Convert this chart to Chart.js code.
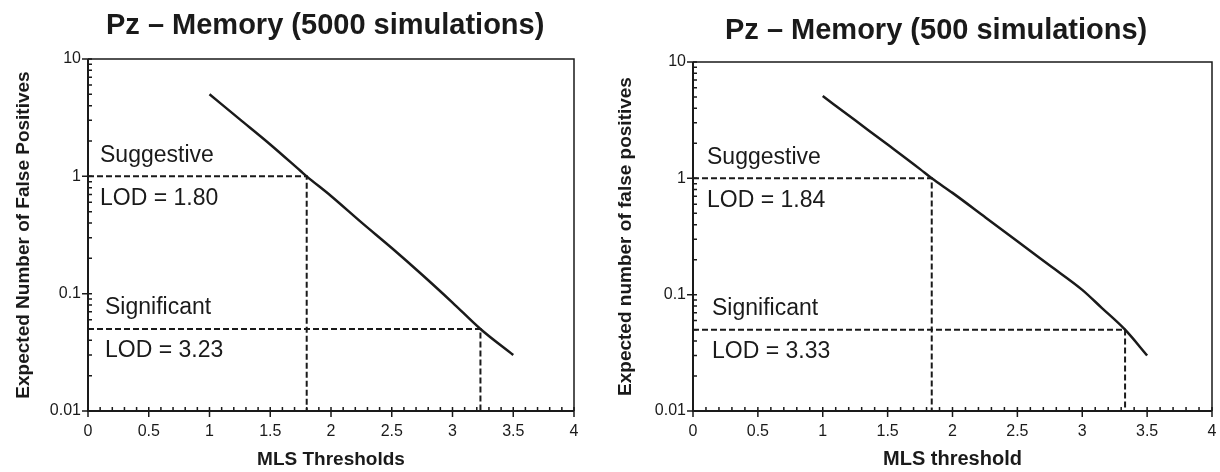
<!DOCTYPE html>
<html>
<head>
<meta charset="utf-8">
<script src="https://cdn.jsdelivr.net/npm/chart.js@4.4.1/dist/chart.umd.min.js"></script>
<style>
body{margin:0;background:#fff;}
#wrap{position:relative;width:1220px;height:472px;}
canvas{position:absolute;top:0;}
#c1{left:0;}
#c2{left:605px;}
</style>
</head>
<body>
<div id="wrap">
<canvas id="c1" width="605" height="472"></canvas>
<canvas id="c2" width="615" height="472"></canvas>
</div>
<script>
// values
const leftThresholds = [1, 1.25, 1.5, 1.75, 1.8, 2, 2.25, 2.5, 2.75, 3, 3.23, 3.5];
const leftFalsePos   = [5, 3.06, 1.87, 1.11, 1.0, 0.68, 0.405, 0.245, 0.145, 0.084, 0.05, 0.03];
const rightThresholds = [1, 1.25, 1.5, 1.75, 1.84, 2, 2.25, 2.5, 2.75, 3, 3.15, 3.33, 3.5];
const rightFalsePos   = [5.1, 3.15, 1.95, 1.2, 1.0, 0.75, 0.465, 0.288, 0.178, 0.11, 0.077, 0.05, 0.03];

const lodLevels = [1, 0.05];          // suggestive, significant (expected false positives)
const leftLod = [1.80, 3.23];
const rightLod = [1.84, 3.33];
const levelNames = ["Suggestive", "Significant"];

const xTicks = [0, 0.5, 1, 1.5, 2, 2.5, 3, 3.5, 4];
const xTickLabels = ["0", "0.5", "1", "1.5", "2", "2.5", "3", "3.5", "4"];
const yTicks = [0.01, 0.1, 1, 10];
const yTickLabels = ["0.01", "0.1", "1", "10"];

const titles = ["Pz \u2013 Memory (5000 simulations)", "Pz \u2013 Memory (500 simulations)"];
const yTitles = ["Expected Number of False Positives", "Expected number of false positives"];
const xTitles = ["MLS Thresholds", "MLS threshold"];

const FONT = "'Liberation Sans', Arial, Helvetica, sans-serif";
const INK = "#1a1a1a";

// draws the frame, tick marks, title and the LOD notes
const decorPlugin = {
  id: "decor",
  afterDraw(chart) {
    const o = chart.options.plugins.decor;
    const ctx = chart.ctx;
    const xs = chart.scales.x, ys = chart.scales.y, a = chart.chartArea;
    ctx.save();
    ctx.strokeStyle = INK;

    // top and right frame
    ctx.lineWidth = 1.5;
    ctx.beginPath();
    ctx.moveTo(a.left, a.top); ctx.lineTo(a.right, a.top); ctx.lineTo(a.right, a.bottom);
    ctx.stroke();

    // axes
    ctx.lineWidth = 2;
    ctx.beginPath();
    ctx.moveTo(a.left, a.top); ctx.lineTo(a.left, a.bottom); ctx.lineTo(a.right, a.bottom);
    ctx.stroke();

    ctx.lineWidth = 1.5;
    ctx.beginPath();
    // x minor ticks (inward)
    for (let i = 0; i <= 40; i++) {
      const px = xs.getPixelForValue(i / 10);
      ctx.moveTo(px, a.bottom); ctx.lineTo(px, a.bottom - 4);
    }
    // x major ticks
    xTicks.forEach(v => {
      const px = xs.getPixelForValue(v);
      ctx.moveTo(px, a.bottom - 4); ctx.lineTo(px, a.bottom + 6);
    });
    // y minor ticks (inward)
    [0.01, 0.1, 1].forEach(d => {
      for (let k = 2; k <= 9; k++) {
        const py = ys.getPixelForValue(k * d);
        ctx.moveTo(a.left, py); ctx.lineTo(a.left + 4, py);
      }
    });
    yTicks.forEach(v => {
      const py = ys.getPixelForValue(v);
      ctx.moveTo(a.left - 6, py); ctx.lineTo(a.left + 4, py);
    });
    ctx.stroke();

    // chart title
    ctx.fillStyle = INK;
    ctx.font = "bold 29px " + FONT;
    ctx.textAlign = "left";
    ctx.textBaseline = "alphabetic";
    ctx.fillText(o.title, o.titleX, o.titleY);

    // LOD notes
    ctx.font = "23px " + FONT;
    ctx.textBaseline = "middle";
    lodLevels.forEach((lvl, i) => {
      const py = ys.getPixelForValue(lvl);
      const tx = a.left + o.noteDx[i];
      ctx.fillText(levelNames[i], tx, py - 21);
      ctx.fillText("LOD = " + o.lod[i].toFixed(2), tx, py + 22);
    });
    ctx.restore();
  }
};

function makeChart(id, xsArr, ysArr, lod, idx, cfg) {
  const curve = xsArr.map((x, i) => ({x: x, y: ysArr[i]}));
  const guides = lod.map((x, i) => ({
    data: [{x: 0, y: lodLevels[i]}, {x: x, y: lodLevels[i]}, {x: x, y: 0.01}],
    borderColor: INK,
    borderWidth: 2,
    borderDash: [6, 3],
    pointRadius: 0,
    tension: 0
  }));
  return new Chart(document.getElementById(id), {
    type: "line",
    data: {
      datasets: [{
        data: curve,
        borderColor: INK,
        borderWidth: 2.5,
        pointRadius: 0,
        cubicInterpolationMode: "monotone"
      }].concat(guides)
    },
    options: {
      responsive: false,
      animation: false,
      devicePixelRatio: 1,
      layout: {padding: {top: cfg.top, right: cfg.right, left: 0, bottom: 0}},
      plugins: {
        legend: {display: false},
        tooltip: {enabled: false},
        decor: {title: titles[idx], titleX: cfg.titleX, titleY: cfg.titleY, lod: lod, noteDx: cfg.noteDx}
      },
      scales: {
        x: {
          type: "linear",
          min: 0, max: 4,
          grid: {display: false, drawTicks: false},
          border: {display: false},
          afterBuildTicks: s => { s.ticks = xTicks.map(v => ({value: v})); },
          afterFit: s => { s.height = 61; s.paddingLeft = 0; s.paddingRight = 0; },
          ticks: {
            padding: 11,
            color: INK,
            font: {family: FONT, size: 16},
            callback: (v) => xTickLabels[xTicks.indexOf(v)]
          },
          title: {
            display: true, text: xTitles[idx], color: INK,
            font: {family: FONT, size: cfg.xTitleSize, weight: "bold"},
            padding: {top: 0, bottom: 1}
          }
        },
        y: {
          type: "logarithmic",
          min: 0.01, max: 10,
          grid: {display: false, drawTicks: false},
          border: {display: false},
          afterBuildTicks: s => { s.ticks = yTicks.map(v => ({value: v})); },
          afterFit: s => { s.width = 88; s.paddingTop = 0; s.paddingBottom = 0; },
          ticks: {
            padding: 7,
            color: INK,
            font: {family: FONT, size: 16},
            callback: (v) => yTickLabels[yTicks.indexOf(v)]
          },
          title: {
            display: true, text: yTitles[idx], color: INK,
            font: {family: FONT, size: cfg.yTitleSize, weight: "bold"},
            padding: {top: cfg.yTitlePad, bottom: 0}
          }
        }
      }
    },
    plugins: [decorPlugin]
  });
}

makeChart("c1", leftThresholds, leftFalsePos, leftLod, 0,
  {top: 59, right: 31, titleX: 106, titleY: 34, noteDx: [12, 17], xTitleSize: 19, yTitleSize: 19, yTitlePad: 12});
makeChart("c2", rightThresholds, rightFalsePos, rightLod, 1,
  {top: 62, right: 8, titleX: 120, titleY: 39, noteDx: [14, 19], xTitleSize: 20, yTitleSize: 19, yTitlePad: 9});
</script>
</body>
</html>
